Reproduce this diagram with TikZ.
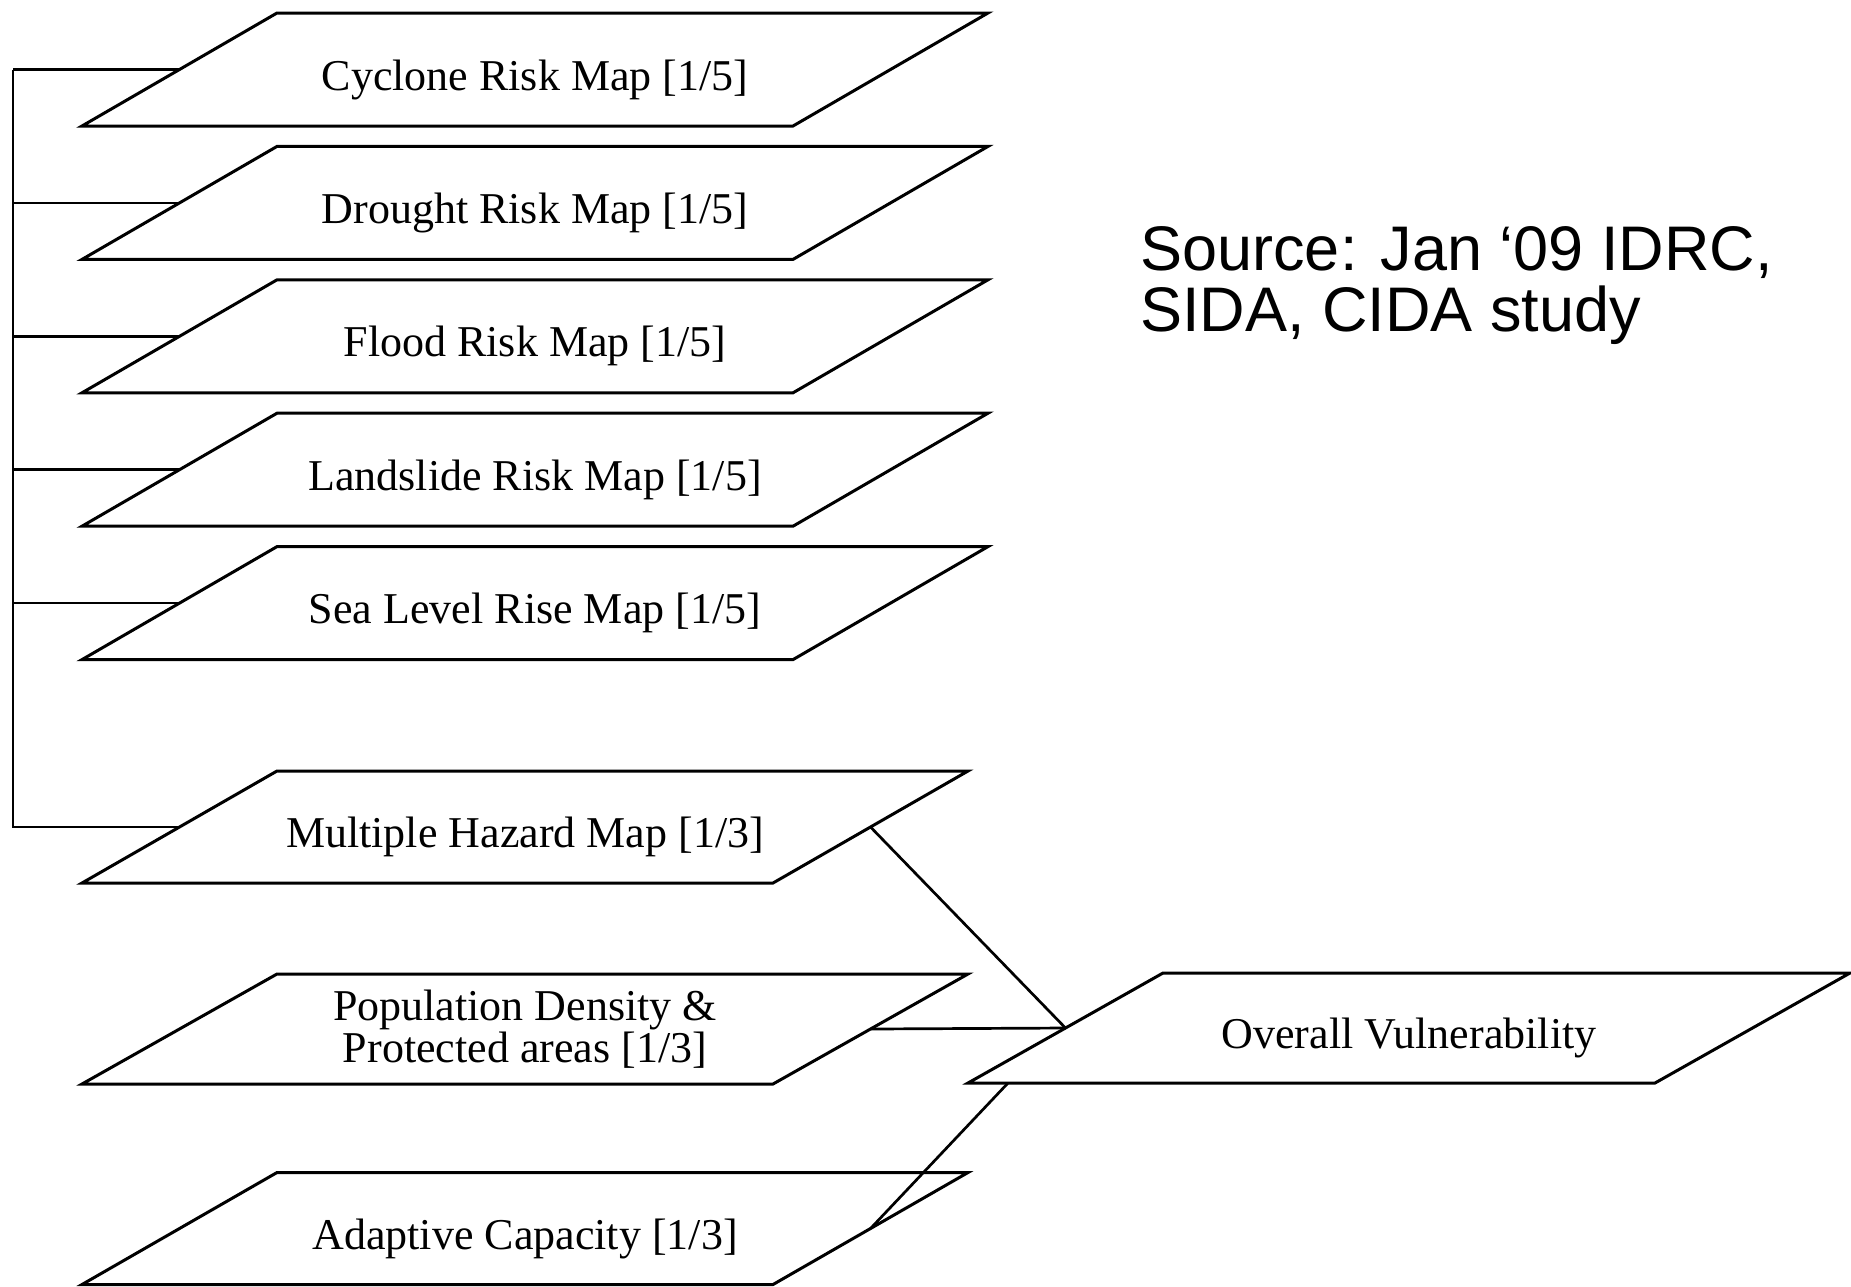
\documentclass[tikz,border=0pt]{standalone}
\usepackage{fontspec}
\setmainfont{Liberation Serif}
\newfontfamily\sourcefont{Liberation Sans}
\usepackage{tikz}
\usetikzlibrary{positioning}

\begin{document}
\begin{tikzpicture}[x=0.5pt, y=-0.5pt,
				map/.style={rectangle, inner sep=0pt, outer sep=0pt, align=center,
					font=\fontsize{22}{18.5}\selectfont},
				low/.style={text height=20.5pt, text depth=0pt},
				bigmap/.style={map, low, minimum width=355.5pt, minimum height=56.5pt},
				smallmap/.style={map, minimum width=345.5pt, minimum height=56pt},
				outline/.style={line width=1.5pt},
				link/.style={line width=1.35pt}]
				\useasboundingbox (0,0) rectangle (1851,1286);
				
				% five single risk maps
				\node[bigmap](node1) at (535, 69.5) {Cyclone Risk Map [1/5]};
				\node[bigmap, below=10.2pt of node1](node2) {Drought Risk Map [1/5]};
				\node[bigmap, below=10.2pt of node2](node3) {Flood Risk Map [1/5]};
				\node[bigmap, below=10.2pt of node3](node4) {Landslide Risk Map [1/5]};
				\node[bigmap, below=10.2pt of node4](node5) {Sea Level Rise Map [1/5]};
				
				\node[smallmap, low](node6) at (525, 827) {Multiple Hazard Map [1/3]};
				\node[smallmap, minimum height=55pt](node7) at (525, 1029) {Population Density \&\\Protected areas [1/3]};
				\node[smallmap, low](node8) at (525, 1228.5) {Adaptive Capacity [1/3]};
				
				\node[smallmap, low, minimum width=343.5pt, minimum height=55pt](node9) at (1409, 1028) {Overall Vulnerability};
				
				\node[anchor=west, inner sep=0pt, align=left, font=\sourcefont\fontsize{31.5}{30.5}\selectfont](source) at (1140, 286) {Source: Jan ‘09 IDRC,\\SIDA, CIDA study};
				
				% slanted outlines
				\foreach \n in {node1, node2, node3, node4, node5, node6, node7, node8, node9}
					\draw [outline] ([xshift=-48.75pt]\n.south west) -- ([xshift=48.75pt]\n.north west)
						-- ([xshift=48.75pt]\n.north east) -- ([xshift=-48.75pt]\n.south east) -- cycle;
				
				\coordinate (bus) at (13, 0);
				\foreach \n in {node1, node2, node3, node4, node5}
					\draw [link] (\n.west) -- (\n.west -| bus);
				\draw [link] (node1.west -| bus) |- (node6.west);
				
				\draw [link] (node6.east) -- (node9.west);
				\draw [link] (node7.east) -- (node9.west);
				\draw [link] (node8.east) -- ([xshift=-28.75pt]node9.south west);
			\end{tikzpicture}
\end{document}
